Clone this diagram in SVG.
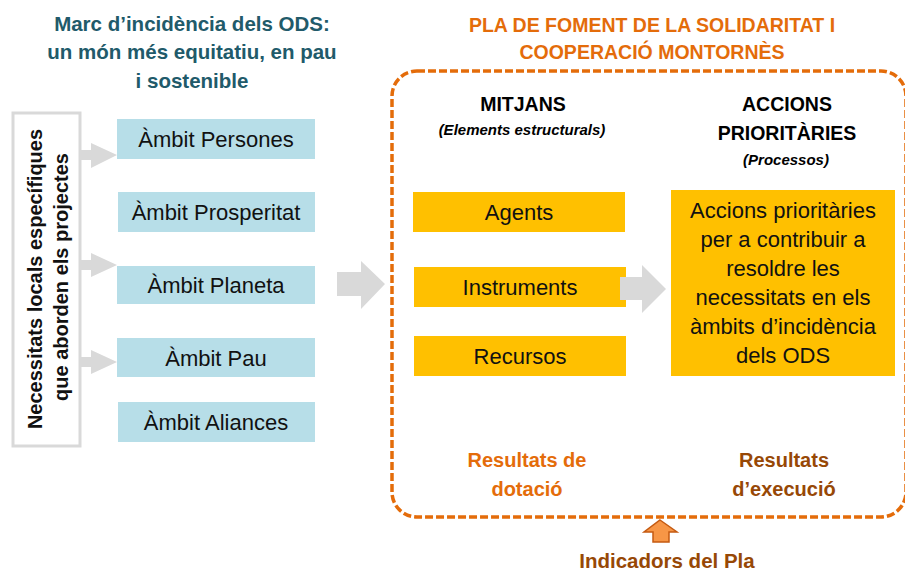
<svg xmlns="http://www.w3.org/2000/svg" width="905" height="573" viewBox="0 0 905 573">
<style>
text{font-family:"Liberation Sans",Arial,sans-serif;text-anchor:middle}
.box{font-size:22px;fill:#111}
.hd{font-size:19.5px;font-weight:bold;fill:#000}
.sub{font-size:15px;font-weight:bold;font-style:italic;fill:#000}
.teal{font-size:20.5px;font-weight:bold;fill:#215a6a}
.org{font-size:19.5px;font-weight:bold;fill:#e46c0a}
.res{font-size:20px;font-weight:bold}
.blue{fill:#b7dee8}
.yel{fill:#ffc000}
.arr{fill:#d9d9d9}
</style>
<g id="title-left">
<text class="teal" x="192" y="31">Marc d’incidència dels ODS:</text>
<text class="teal" x="192" y="59">un món més equitatiu, en pau</text>
<text class="teal" x="192" y="88">i sostenible</text>
</g>
<g id="title-right">
<text class="org" x="652" y="32">PLA DE FOMENT DE LA SOLIDARITAT I</text>
<text class="org" x="652" y="59">COOPERACIÓ MONTORNÈS</text>
</g>
<g id="pla-frame">
<rect x="392" y="71" width="514" height="446" rx="25" ry="25" fill="none" stroke="#e46c0a" stroke-width="3.5" stroke-dasharray="8 3"/>
</g>
<g id="necessitats">
<rect x="13" y="113" width="67" height="333" fill="#fff" stroke="#d9d9d9" stroke-width="3"/>
<g transform="translate(42,279) rotate(-90)">
<text font-size="20" font-weight="bold" fill="#111" x="0" y="0">Necessitats locals específiques</text>
<text font-size="20" font-weight="bold" fill="#111" x="2" y="26">que aborden els projectes</text>
</g>
</g>
<g id="ambit-persones"><rect class="blue" x="117" y="119" width="198" height="40"/><text class="box" x="216" y="147">Àmbit Persones</text></g>
<g id="ambit-prosperitat"><rect class="blue" x="118" y="192" width="197" height="40"/><text class="box" x="216" y="220">Àmbit Prosperitat</text></g>
<g id="ambit-planeta"><rect class="blue" x="117" y="266" width="198" height="38"/><text class="box" x="216" y="293">Àmbit Planeta</text></g>
<g id="ambit-pau"><rect class="blue" x="117" y="338" width="198" height="39"/><text class="box" x="216" y="366">Àmbit Pau</text></g>
<g id="ambit-aliances"><rect class="blue" x="118" y="402" width="197" height="40"/><text class="box" x="216" y="430">Àmbit Aliances</text></g>
<g id="mitjans-head">
<text class="hd" x="523" y="111">MITJANS</text>
<text class="sub" x="522" y="135">(Elements estructurals)</text>
</g>
<g id="accions-head">
<text class="hd" x="787" y="111">ACCIONS</text>
<text class="hd" x="787" y="140">PRIORITÀRIES</text>
<text class="sub" x="786" y="165">(Processos)</text>
</g>
<g id="agents"><rect class="yel" x="413" y="192" width="212" height="40"/><text class="box" x="519" y="220">Agents</text></g>
<g id="instruments"><rect class="yel" x="414" y="267" width="212" height="40"/><text class="box" x="520" y="295">Instruments</text></g>
<g id="recursos"><rect class="yel" x="414" y="336" width="212" height="40"/><text class="box" x="520" y="364">Recursos</text></g>
<g id="accions-box">
<rect class="yel" x="671" y="190" width="224" height="186"/>
<text class="box" x="783" y="218">Accions prioritàries</text>
<text class="box" x="783" y="247">per a contribuir a</text>
<text class="box" x="783" y="276">resoldre les</text>
<text class="box" x="783" y="305">necessitats en els</text>
<text class="box" x="783" y="334">àmbits d’incidència</text>
<text class="box" x="783" y="363">dels ODS</text>
</g>
<g id="resultats-dotacio">
<text class="res" fill="#e46c0a" x="527" y="467">Resultats de</text>
<text class="res" fill="#e46c0a" x="527" y="496">dotació</text>
</g>
<g id="resultats-execucio">
<text class="res" fill="#974806" x="784" y="467">Resultats</text>
<text class="res" fill="#974806" x="784" y="496">d’execució</text>
</g>
<g id="indicadors">
<text font-size="20.5" font-weight="bold" fill="#974806" x="667" y="568">Indicadors del Pla</text>
</g>
<g id="connectors">
<polygon class="arr" points="81,150 91,150 91,143 117,155 91,168 91,160 81,160"/>
<polygon class="arr" points="81,260 91,260 91,253 117,265 91,277 91,270 81,270"/>
<polygon class="arr" points="81,357 91,357 91,350 117,362 91,374 91,367 81,367"/>
<polygon class="arr" points="337,272 361,272 361,261 385,284 361,309 361,296 337,296"/>
<polygon class="arr" points="620,277 642,277 642,265 666,289 642,313 642,300 620,300"/>
<polygon points="660,520 677,532 669,532 669,542 653,542 653,532 644,532" fill="#f79646" stroke="#c55a11" stroke-width="1.5" stroke-linejoin="miter"/>
</g>
</svg>
